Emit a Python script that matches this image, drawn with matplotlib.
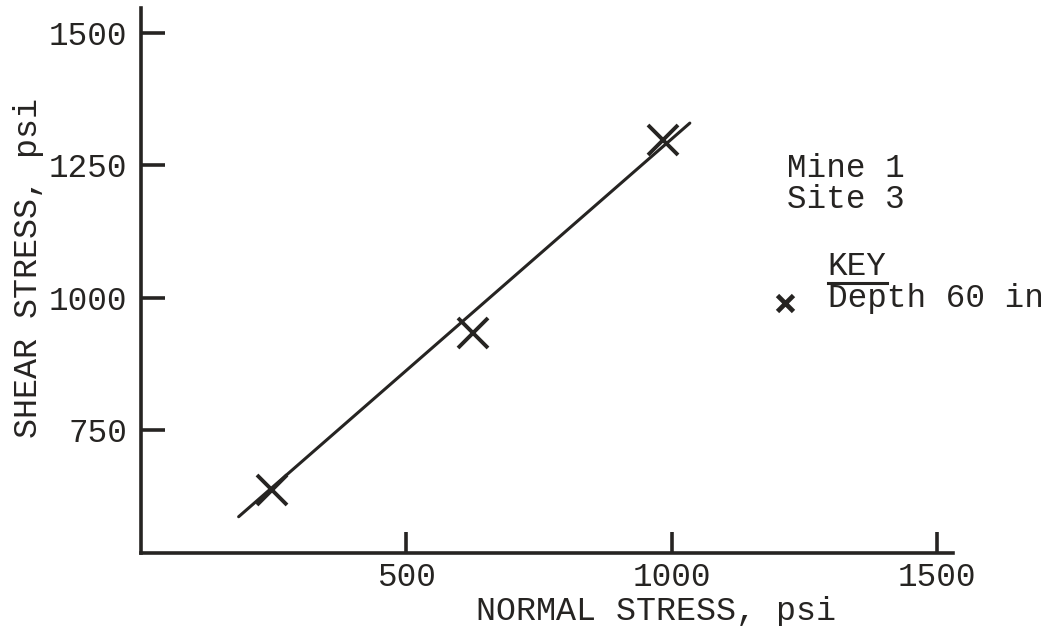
import matplotlib
matplotlib.use("Agg")
import matplotlib.pyplot as plt

# measured points (normal stress, shear stress), psi
normal_stress = [246, 625, 983]
shear_stress = [638, 934, 1298]

# fitted line drawn through the points
fit_x = [184, 1034]
fit_y = [587, 1330]

x_ticks = [500, 1000, 1500]
y_ticks = [750, 1000, 1250, 1500]

site_lines = ["Mine 1", "Site 3"]
key_title = "KEY"
key_label = "Depth 60 in"

ink = "#262422"
font = ["Liberation Mono", "DejaVu Sans Mono"]
plt.rcParams["font.family"] = font

fig = plt.figure(figsize=(10.52, 6.26), dpi=100, facecolor="white")
ax = fig.add_axes([0.134, 0.117, 0.772, 0.870])

ax.plot(fit_x, fit_y, color=ink, linewidth=2.2, solid_capstyle="round")
ax.plot(normal_stress, shear_stress, linestyle="none", marker="x",
        markersize=21, markeredgewidth=2.8, color=ink)

ax.set_xlim(0, 1530)
ax.set_ylim(519, 1547)
ax.set_xticks(x_ticks)
ax.set_yticks(y_ticks)

for side in ["top", "right"]:
    ax.spines[side].set_visible(False)
for side in ["left", "bottom"]:
    ax.spines[side].set_linewidth(2.6)
    ax.spines[side].set_color(ink)

ax.tick_params(axis="both", direction="in", width=2.6, color=ink,
               labelsize=23.5, labelcolor=ink)
ax.tick_params(axis="x", length=15, pad=7)
ax.tick_params(axis="y", length=17, pad=10)

ax.set_xlabel("NORMAL STRESS, psi", fontsize=24, color=ink, labelpad=2,
              x=0.634)
ax.set_ylabel("SHEAR STRESS, psi", fontsize=24, color=ink, labelpad=3,
              y=0.523)

# site notes and key
ax.text(1217, 1229, site_lines[0], fontsize=23.5, color=ink, va="baseline")
ax.text(1217, 1170, site_lines[1], fontsize=23.5, color=ink, va="baseline")
ax.text(1294, 1044, key_title, fontsize=23.5, color=ink, va="baseline")
ax.plot([1294, 1405], [1029, 1029], color=ink, linewidth=2.2)
ax.plot([1213], [991], linestyle="none", marker="x", markersize=11,
        markeredgewidth=3.4, color=ink)
ax.text(1294, 983, key_label, fontsize=23.5, color=ink, va="baseline")

fig.savefig("out.png", dpi=100, facecolor="white")
